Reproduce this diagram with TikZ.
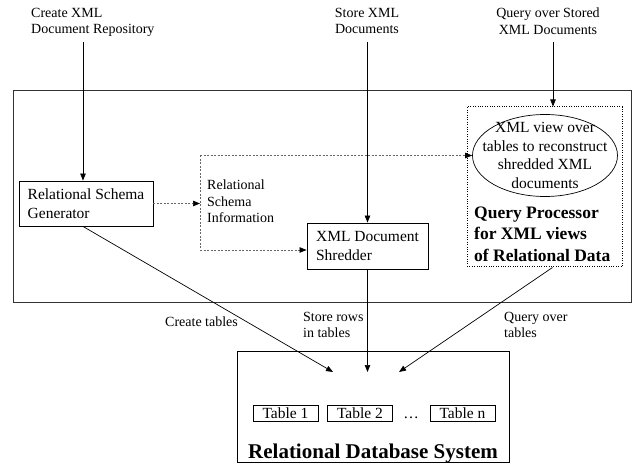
\documentclass[tikz,border=0pt]{standalone}
\usepackage{fontspec}
\setmainfont{Liberation Serif}
\usetikzlibrary{arrows.meta,shapes.geometric}
\begin{document}
\begin{tikzpicture}[x=1pt,y=1pt,
    box/.style={draw,line width=0.9pt,align=left,font=\fontsize{15.5}{18.5}\selectfont},
    lbl/.style={inner sep=0pt,font=\fontsize{14}{16.5}\selectfont},
    tbl/.style={draw,line width=0.7pt,inner sep=0pt,minimum width=65pt,minimum height=16pt,font=\fontsize{15.5}{18}\selectfont},
    arr/.style={-{Triangle[length=7pt,width=5.5pt,color=black]},line width=0.7pt},
    dotline/.style={black!60,line width=0.7pt,dash pattern=on 2pt off 1.5pt}]
  \useasboundingbox (0,0) rectangle (632,-465);
  \draw[line width=0.9pt,black!80] (13,-90) rectangle (631,-302);
  \node[box,minimum width=134pt,minimum height=45pt] (gen) at (86,-203.5) {Relational Schema\\Generator};
  \node[box,minimum width=121pt,minimum height=46pt] (shred) at (367.5,-246) {XML Document\\Shredder};
  \node[draw,line width=1pt,dash pattern=on 1pt off 1.4pt,minimum width=155pt,minimum height=160pt] (qp) at (544.5,-187) {};
  \node[draw,ellipse,line width=0.7pt,minimum width=145pt,minimum height=82pt] (view) at (545,-155.5) {};
  \node[align=center,inner sep=0pt,font=\fontsize{15.5}{18.7}\selectfont] (viewtext) at (view) {XML view over\\tables to reconstruct\\shredded XML\\documents};
  \node[anchor=west,align=left,inner sep=0pt,font=\bfseries\fontsize{17.5}{21.5}\selectfont] (qpname) at (474,-234) {Query Processor\\for XML views\\of Relational Data};
  \node[draw,line width=0.9pt,minimum width=272pt,minimum height=111pt] (db) at (373,-406.5) {};
  \node[tbl] (t1) at (285.5,-413) {Table 1};
  \node[tbl] (t2) at (360,-413) {Table 2};
  \node[anchor=base,inner sep=0pt,font=\fontsize{15.5}{18}\selectfont] (tdots) at (411,-418.5) {\dots};
  \node[tbl] (tn) at (462.5,-413) {Table n};
  \node[anchor=base,inner sep=0pt,font=\bfseries\fontsize{21}{24}\selectfont] (dbname) at (373,-458) {Relational Database System};

  \node[lbl,align=left,anchor=north west] (lcreate) at (31,-8) {Create XML\\Document Repository};
  \node[lbl,align=center,anchor=north] (lstore) at (367,-8) {Store XML\\Documents};
  \node[lbl,align=center,anchor=north] (lquery) at (548,-8) {Query over Stored\\XML Documents};
  \node[lbl,align=left,anchor=north west] (linfo) at (207,-180) {Relational\\Schema\\Information};
  \node[lbl,anchor=base west] (ltables) at (165,-326) {Create tables};
  \node[lbl,align=left,anchor=north west] (lrows) at (303,-312) {Store rows\\in tables};
  \node[lbl,align=left,anchor=north west] (lqtables) at (504,-312) {Query over\\tables};

  \coordinate (src1) at (83,-42);
  \coordinate (src2) at (367.5,-42);
  \coordinate (src3) at (553,-42);
  \coordinate (bus1) at (200,-155.5);
  \coordinate (bus2) at (200,-250);
  \coordinate (dst1) at (333,-372);
  \coordinate (dst2) at (367.5,-372);
  \coordinate (dst3) at (399,-372);

  \draw[arr] (src1) -- (src1 |- gen.north);
  \draw[arr] (src2) -- (shred.north);
  \draw[arr] (src3) -- (src3 |- qp.north);
  \draw[dotline,arr] (gen.east) -- (gen.east -| bus1);
  \draw[dotline] (bus1) -- (bus2);
  \draw[dotline,arr] (bus1) -- (view.west);
  \draw[dotline,arr] (bus2) -- (bus2 -| shred.west);
  \draw[arr] ([xshift=-3pt]gen.south) -- (dst1);
  \draw[arr] (shred.south) -- (dst2);
  \draw[arr] ([xshift=8pt]qp.south) -- (dst3);
\end{tikzpicture}
\end{document}
